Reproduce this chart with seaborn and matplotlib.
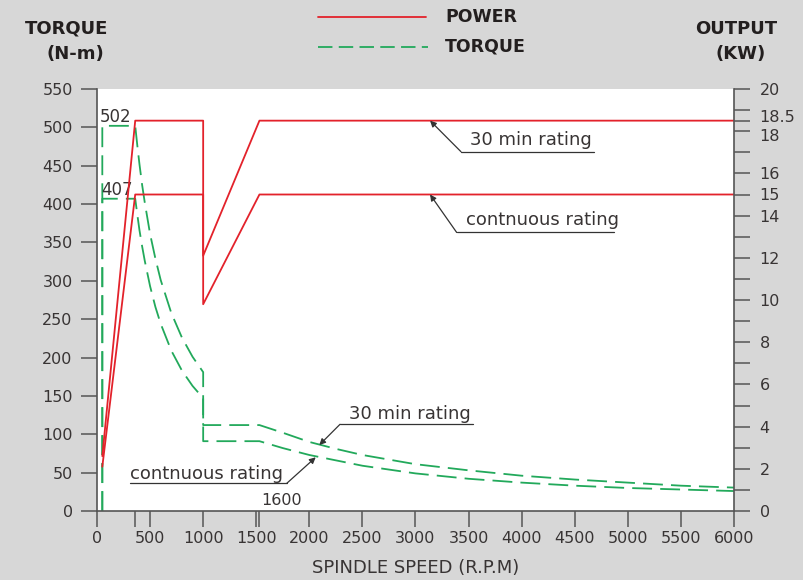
import matplotlib
matplotlib.use("Agg")
import matplotlib.pyplot as plt
import matplotlib.transforms as mtransforms
import seaborn as sns
import pandas as pd
from matplotlib.lines import Line2D

# ---------------- data ----------------
rpm_torque = [50, 50, 360, 380, 400, 425, 450, 500, 550, 600, 700, 800, 900, 1000,
              1000, 1530, 1750, 2000, 2250, 2500, 3000, 3500, 4000, 4500, 5000, 5500, 6000]
torque_30min = [0, 502, 502, 476, 452, 425, 402, 361, 329, 301, 258, 226, 201, 181,
                112, 112, 102, 90, 81, 73, 61, 53, 46, 41, 37, 33, 30.5]
torque_cont = [0, 407, 407, 386, 366, 345, 326, 293, 266, 244, 209, 183, 163, 147,
               91, 91, 82, 73, 66, 59, 49, 42, 37, 33, 30, 28, 26]

rpm_power = [50, 360, 1000, 1000, 1530, 6000]
power_30min = [2.6, 18.5, 18.5, 12.1, 18.5, 18.5]
power_cont = [2.1, 15.0, 15.0, 9.8, 15.0, 15.0]

x_ticks = [0, 500, 1000, 1500, 2000, 2500, 3000, 3500, 4000, 4500, 5000, 5500, 6000]
x_extra_ticks = [360, 1530]
torque_ticks = [0, 50, 100, 150, 200, 250, 300, 350, 400, 450, 500, 550]
power_ticks = [0, 1, 2, 3, 4, 5, 6, 7, 8, 9, 10, 11, 12, 13, 14, 15, 16, 17, 18, 18.5, 19, 20]
power_labels = ["0", "", "2", "", "4", "", "6", "", "8", "", "10", "", "12", "", "14",
                "15", "16", "", "18", "18.5", "", "20"]

# ---------------- style ----------------
RED = "#e3222b"
GREEN = "#22a95b"
TXT = "#383434"
SPINE = "#555555"
BG = "#d7d7d7"
DASH = (0, (11, 4.5))

sns.set_theme(style="white")
plt.rcParams["font.family"] = ["DejaVu Sans"]

fig = plt.figure(figsize=(8.04, 5.8), dpi=100, facecolor=BG)
ax = fig.add_axes([97 / 804, 1 - 511 / 580, (734 - 97) / 804, (511 - 89) / 580])
ax.set_facecolor("white")
ax2 = ax.twinx()

df_t = pd.DataFrame({"rpm": rpm_torque, "t30": torque_30min, "tc": torque_cont})
df_p = pd.DataFrame({"rpm": rpm_power, "p30": power_30min, "pc": power_cont})

sns.lineplot(data=df_t, x="rpm", y="t30", ax=ax, sort=False, estimator=None,
             color=GREEN, lw=1.3, linestyle=DASH)
sns.lineplot(data=df_t, x="rpm", y="tc", ax=ax, sort=False, estimator=None,
             color=GREEN, lw=1.3, linestyle=DASH)
sns.lineplot(data=df_p, x="rpm", y="p30", ax=ax2, sort=False, estimator=None,
             color=RED, lw=1.3)
sns.lineplot(data=df_p, x="rpm", y="pc", ax=ax2, sort=False, estimator=None,
             color=RED, lw=1.3)

ax.set_xlim(0, 6000)
ax.set_ylim(0, 550)
ax2.set_ylim(0, 20)

ax.set_xticks(x_ticks)
ax.set_xticks(x_extra_ticks, minor=True)
ax.set_yticks(torque_ticks)
ax2.set_yticks(power_ticks, power_labels)

for a in (ax, ax2):
    for s in a.spines.values():
        s.set_color(SPINE)
        s.set_linewidth(1.2)
    a.spines["top"].set_visible(False)
ax.spines["right"].set_visible(False)
ax2.spines["left"].set_visible(False)
ax2.spines["bottom"].set_visible(False)

ax.tick_params(axis="x", which="both", bottom=True, direction="out", length=11.5,
               width=1.1, color=SPINE, labelsize=11.5, labelcolor=TXT, pad=3)
ax.tick_params(axis="y", which="both", left=True, direction="out", length=11.5,
               width=1.1, color=SPINE, labelsize=11.5, labelcolor=TXT, pad=6)
ax2.tick_params(axis="y", which="both", right=True, direction="out", length=11.5,
                width=1.1, color=SPINE, labelsize=11.5, labelcolor=TXT, pad=7)

# nudge the crowded 18.5 / 18 labels apart (as in the reference)
for lbl in ax2.get_yticklabels():
    if lbl.get_text() == "18.5":
        lbl.set_transform(lbl.get_transform() +
                          mtransforms.ScaledTranslation(0, 3.5 / 72, fig.dpi_scale_trans))
    elif lbl.get_text() == "18":
        lbl.set_transform(lbl.get_transform() +
                          mtransforms.ScaledTranslation(0, -2.5 / 72, fig.dpi_scale_trans))

ax.set_xlabel("SPINDLE SPEED (R.P.M)", fontsize=13, color=TXT, labelpad=9)
ax.set_ylabel("")
ax2.set_ylabel("")

# ---------------- headers ----------------
fig.text(25 / 804, 1 - 29 / 580, "TORQUE", fontsize=13, fontweight="heavy", color="#231f1f",
         ha="left", va="center")
fig.text(75 / 804, 1 - 54 / 580, "(N-m)", fontsize=13, fontweight="heavy", color="#231f1f",
         ha="center", va="center")
fig.text(736 / 804, 1 - 29 / 580, "OUTPUT", fontsize=13, fontweight="heavy", color="#231f1f",
         ha="center", va="center")
fig.text(741 / 804, 1 - 54 / 580, "(KW)", fontsize=13, fontweight="heavy", color="#231f1f",
         ha="center", va="center")

# ---------------- legend ----------------
fig.add_artist(Line2D([318 / 804, 426 / 804], [1 - 17 / 580] * 2, color=RED, lw=1.3,
                      transform=fig.transFigure))
fig.add_artist(Line2D([318 / 804, 428 / 804], [1 - 47 / 580] * 2, color=GREEN, lw=1.3,
                      linestyle=(0, (8, 3.5)), transform=fig.transFigure))
fig.text(445 / 804, 1 - 17 / 580, "POWER", fontsize=12.5, fontweight="heavy", color="#231f1f",
         ha="left", va="center")
fig.text(445 / 804, 1 - 47 / 580, "TORQUE", fontsize=12.5, fontweight="heavy", color="#231f1f",
         ha="left", va="center")

# ---------------- annotations ----------------
ANN = "#333333"
arrow = dict(arrowstyle="-|>", color=ANN, lw=0.9, mutation_scale=9, shrinkA=0, shrinkB=0)


def leader(a, tip, corner, x_end, text, text_x, text_y):
    a.annotate("", xy=tip, xytext=corner, arrowprops=arrow)
    a.plot([corner[0], x_end], [corner[1], corner[1]], color=ANN, lw=0.9)
    a.text(text_x, text_y, text, fontsize=13, color=TXT, ha="left", va="baseline")


# power-axis annotations
leader(ax2, (3137, 18.5), (3428, 17.03), 4681, "30 min rating", 3513, 17.35)
leader(ax2, (3137, 15.0), (3388, 13.2), 4870, "contnuous rating", 3475, 13.55)
# torque-axis annotations
leader(ax, (2094, 86), (2289, 113), 3544, "30 min rating", 2373, 119.5)
leader(ax, (2060, 70), (1787, 36), 311, "contnuous rating", 311, 41.7)

ax.text(28, 507, "502", fontsize=12, color=TXT, ha="left", va="baseline")
ax.text(40, 412, "407", fontsize=12, color=TXT, ha="left", va="baseline")
ax.text(1742, 7.8, "1600", fontsize=11.5, color=TXT, ha="center", va="baseline")

fig.savefig("out.png", dpi=100, facecolor=BG)
